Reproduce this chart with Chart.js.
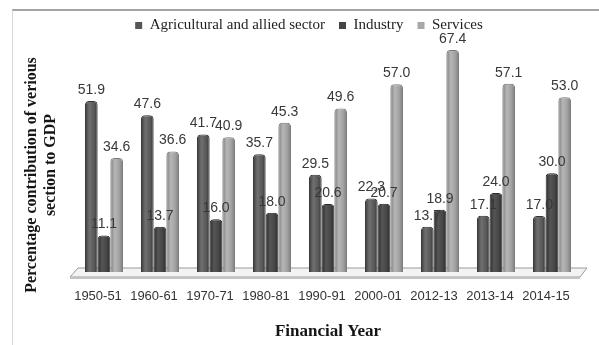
<!DOCTYPE html>
<html>
<head>
<meta charset="utf-8">
<title>Sector share of GDP</title>
<script src="https://cdn.jsdelivr.net/npm/chart.js"></script>
<style>
	body { margin: 0; background: #fff; }
	#wrap { position: relative; width: 599px; height: 345px; overflow: hidden; }
	#wrap canvas { position: absolute; left: 0; top: 0; }
	#frame {
		position: absolute; left: 12px; top: 9px; right: 0; bottom: 0;
		border-top: 2px solid #a3a3a3; border-left: 1px solid #d6d6d6;
		pointer-events: none;
	}
</style>
</head>
<body>
<div id="wrap">
	<canvas id="mycanvas" width="599" height="345"></canvas>
	<div id="frame"></div>
</div>
<script>
var categories = ['1950-51', '1960-61', '1970-71', '1980-81', '1990-91', '2000-01', '2012-13', '2013-14', '2014-15'];
var agriculture = [51.9, 47.6, 41.7, 35.7, 29.5, 22.3, 13.7, 17.1, 17.0];
var industry = [11.1, 13.7, 16.0, 18.0, 20.6, 20.7, 18.9, 24.0, 30.0];
var services = [34.6, 36.6, 40.9, 45.3, 49.6, 57.0, 67.4, 57.1, 53.0];
var seriesNames = ['Agricultural and allied sector', 'Industry', 'Services'];
var yTitle = ['Percentage contribution of verious', 'section to GDP'];
var xTitle = 'Financial Year';

var CAT_PCT = 0.68;
var legendColors = ['#565656', '#444444', '#a8a8a8'];

// shaded fill so each bar reads like a cylinder
function cylinder(stops) {
	return function(ctx) {
		var chart = ctx.chart;
		var xs = chart.scales.x;
		if (!xs || !isFinite(xs.left) || !isFinite(xs.right) || xs.right <= xs.left || ctx.dataIndex === undefined) {
			return stops[1];
		}
		var cat = (xs.right - xs.left) / categories.length;
		var group = cat * CAT_PCT;
		var w = group / 3;
		var cx = xs.getPixelForValue(ctx.dataIndex) - group / 2 + (ctx.datasetIndex + 0.5) * w;
		if (!isFinite(cx)) return stops[1];
		var g = chart.ctx.createLinearGradient(cx - w / 2, 0, cx + w / 2, 0);
		g.addColorStop(0, stops[0]);
		g.addColorStop(0.35, stops[1]);
		g.addColorStop(0.7, stops[2]);
		g.addColorStop(1, stops[0]);
		return g;
	};
}

var floorPlugin = {
	id: 'floor',
	beforeDatasetsDraw: function(chart) {
		var c = chart.ctx, a = chart.chartArea;
		c.save();
		c.beginPath();
		c.moveTo(a.left - 6, a.bottom + 5);
		c.lineTo(a.right, a.bottom + 5);
		c.lineTo(a.right + 7, a.bottom - 4);
		c.lineTo(a.left + 2, a.bottom - 4);
		c.closePath();
		c.fillStyle = '#f3f3f3';
		c.fill();
		c.strokeStyle = '#9c9c9c';
		c.lineWidth = 1;
		c.stroke();
		c.fillStyle = '#c4c4c4';
		c.fillRect(a.left - 6, a.bottom + 5, a.right - a.left + 6, 2);
		c.restore();
	}
};

var valuePlugin = {
	id: 'values',
	afterDatasetsDraw: function(chart) {
		var c = chart.ctx;
		c.save();
		c.font = '14px "Liberation Sans", Arial, sans-serif';
		c.fillStyle = '#383838';
		c.textAlign = 'center';
		c.textBaseline = 'middle';
		chart.data.datasets.forEach(function(ds, i) {
			var meta = chart.getDatasetMeta(i);
			meta.data.forEach(function(bar, j) {
				c.fillText(ds.data[j].toFixed(1), bar.x, bar.y - 11);
			});
		});
		c.restore();
	}
};

// two-line rotated title to the left of the plot
var yTitlePlugin = {
	id: 'yTitle',
	afterDraw: function(chart) {
		var c = chart.ctx, a = chart.chartArea, ys = chart.scales.y;
		var spots = [[ys.left - 6, a.bottom - 97], [ys.left + 13, a.bottom - 107]];
		yTitle.forEach(function(line, i) {
			c.save();
			c.font = 'bold 16px "Liberation Serif", "Times New Roman", serif';
			c.fillStyle = '#151515';
			c.textAlign = 'center';
			c.textBaseline = 'middle';
			c.translate(spots[i][0], spots[i][1]);
			c.rotate(-Math.PI / 2);
			c.fillText(line, 0, 0);
			c.restore();
		});
	}
};

function makeSet(label, data, stops, border) {
	return {
		label: label,
		data: data,
		backgroundColor: cylinder(stops),
		borderColor: border,
		borderWidth: 1,
		borderSkipped: 'start',
		borderRadius: { topLeft: 4, topRight: 4 },
		categoryPercentage: CAT_PCT,
		barPercentage: 1.0,
		clip: false
	};
}

var chartdata = {
	labels: categories,
	datasets: [
		makeSet(seriesNames[0], agriculture, ['#3a3a3a', '#707070', '#5a5a5a'], '#333333'),
		makeSet(seriesNames[1], industry, ['#2c2c2c', '#555555', '#464646'], '#2a2a2a'),
		makeSet(seriesNames[2], services, ['#7c7c7c', '#b6b6b6', '#a2a2a2'], '#7a7a7a')
	]
};

var ctx = document.getElementById('mycanvas');
var barGraph = new Chart(ctx, {
	type: 'bar',
	data: chartdata,
	plugins: [floorPlugin, valuePlugin, yTitlePlugin],
	options: {
		responsive: false,
		animation: false,
		layout: { padding: { left: 38, right: 19, top: 4, bottom: 0 } },
		plugins: {
			tooltip: { enabled: false },
			legend: {
				position: 'top',
				labels: {
					font: { family: '"Liberation Serif", "Times New Roman", serif', size: 15 },
					color: '#1e1e1e',
					boxWidth: 7,
					boxHeight: 7,
					padding: 14,
					generateLabels: function(chart) {
						var items = Chart.defaults.plugins.legend.labels.generateLabels(chart);
						items.forEach(function(it, i) {
							it.fillStyle = legendColors[i];
							it.strokeStyle = legendColors[i];
							it.lineWidth = 0;
						});
						return items;
					}
				}
			}
		},
		scales: {
			x: {
				grid: { display: false, drawTicks: false },
				border: { display: false },
				ticks: {
					color: '#333',
					font: { family: '"Liberation Sans", Arial, sans-serif', size: 13 },
					padding: 17,
					labelOffset: -6,
					maxRotation: 0,
					autoSkip: false
				},
				title: {
					display: true,
					text: xTitle,
					color: '#151515',
					font: { family: '"Liberation Serif", "Times New Roman", serif', size: 17, weight: 'bold' },
					padding: { top: 0, bottom: 3 }
				}
			},
			y: {
				min: 0,
				max: 69.5,
				grid: { display: false, drawTicks: false },
				border: { display: false },
				ticks: { display: false },
				afterFit: function(scale) { scale.width = 38; }
			}
		}
	}
});
</script>
</body>
</html>
